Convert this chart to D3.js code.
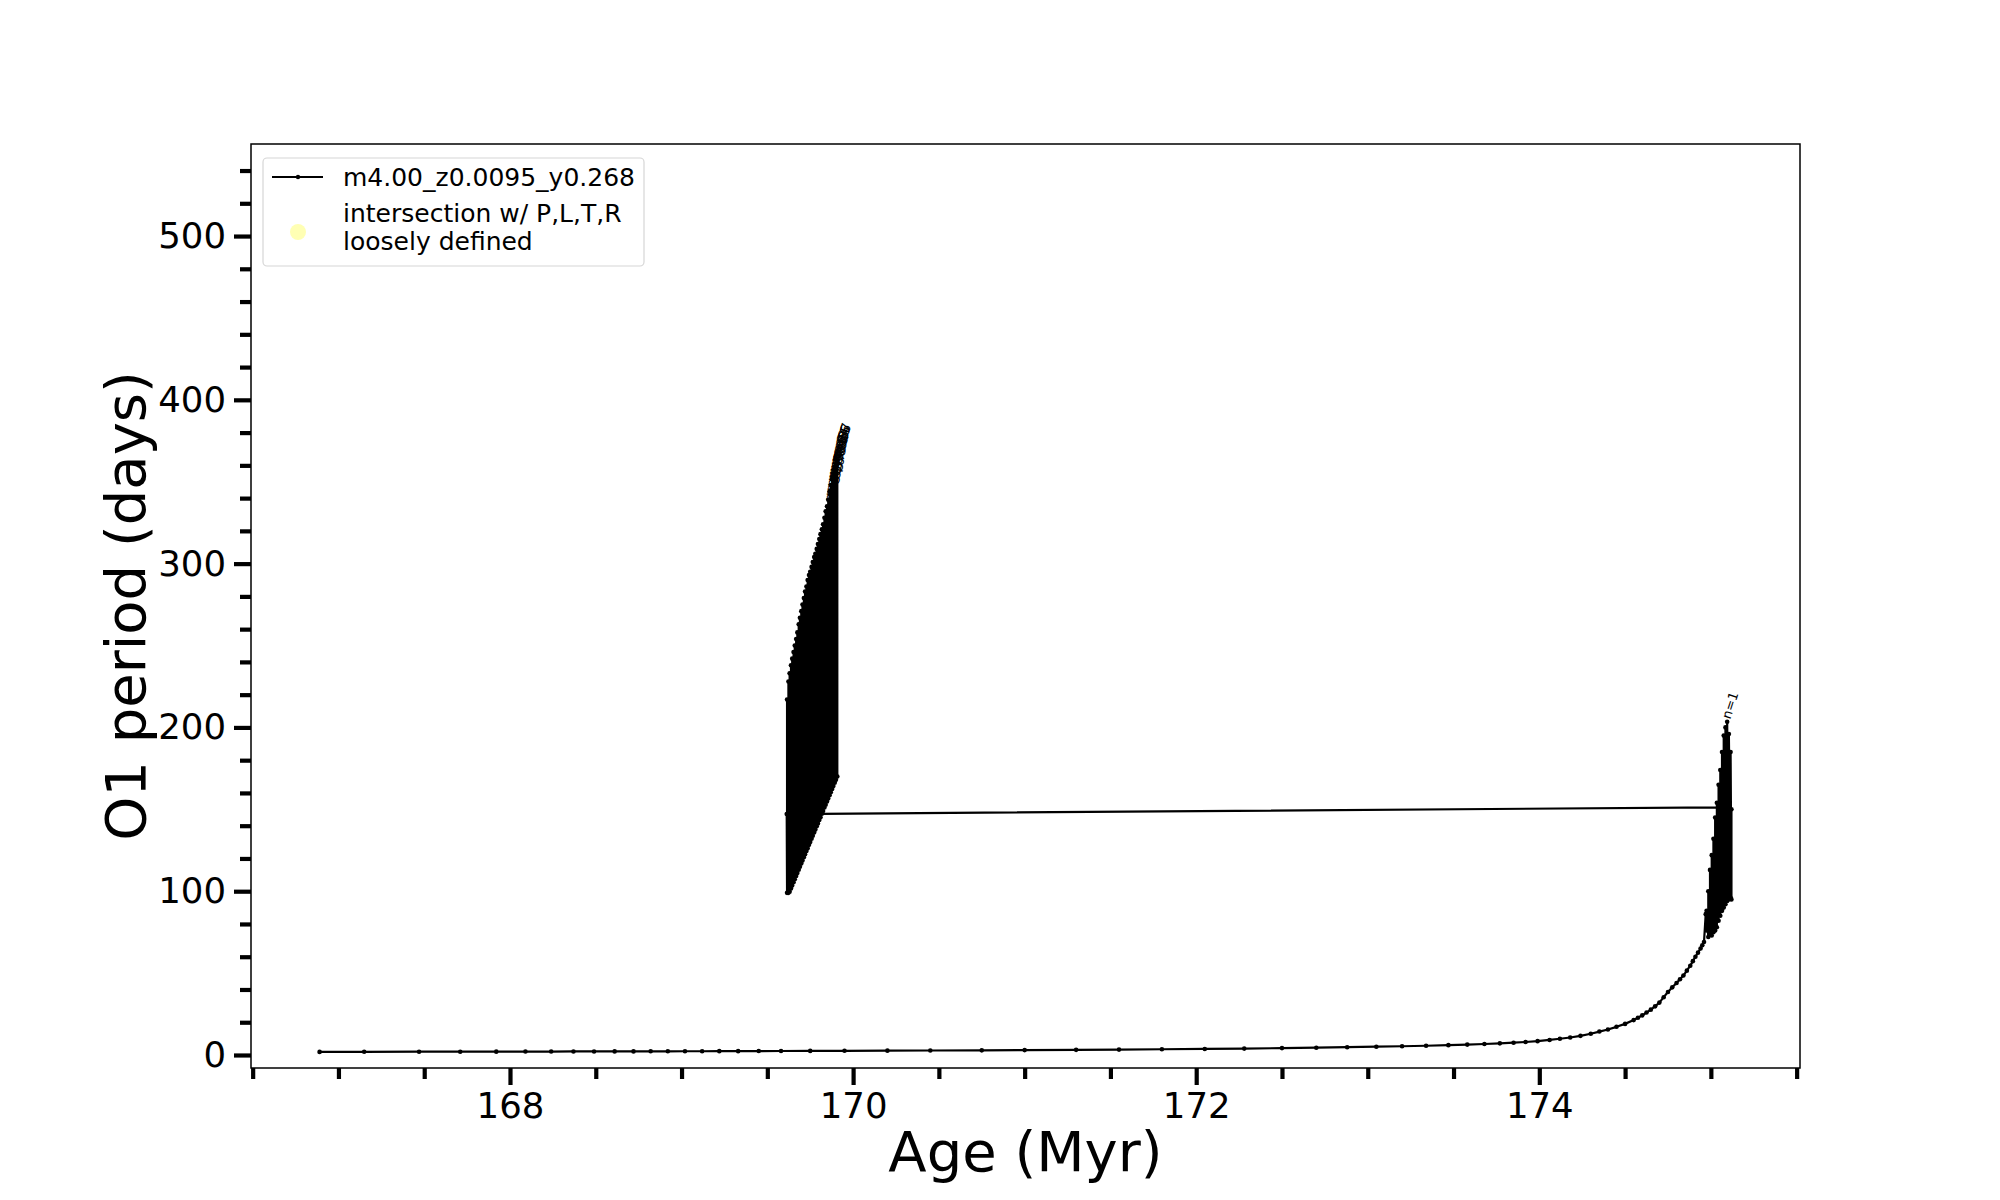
<!DOCTYPE html>
<html><head><meta charset="utf-8">
<script src="https://cdn.jsdelivr.net/npm/d3@7"></script>
<style>body{margin:0;background:#fff} text{font-family:"DejaVu Sans",sans-serif}</style>
</head><body><svg id="c" width="2000" height="1200"></svg>
<script>
// ---- data ----
const seriesName = "m4.00_z0.0095_y0.268";
const legendText2 = ["intersection w/ P,L,T,R", "loosely defined"];
const xLabel = "Age (Myr)";
const yLabel = "O1 period (days)";
const xTicks = [168, 170, 172, 174];
const xMinorTicks = [166.5,167,167.5,168.5,169,169.5,170.5,171,171.5,172.5,173,173.5,174.5,175,175.5];
const yTicks = [0, 100, 200, 300, 400, 500];
const yMinorTicks = [20,40,60,80,120,140,160,180,220,240,260,280,320,340,360,380,420,440,460,480,520,540];

const trackAge = [166.89,167.15,167.47,167.71,167.92,168.09,168.24,168.37,168.49,168.61,168.72,168.82,168.92,169.02,169.12,169.22,169.33,169.45,169.58,169.75,169.95,170.2,170.45,170.75,171.0,171.3,171.55,171.8,172.05,172.28,172.5,172.7,172.88,173.05,173.2,173.34,173.47,173.58,173.68,173.77,173.85,173.92,173.99,174.06,174.12,174.18,174.24,174.30,174.35,174.40,174.45,174.50,174.55,174.575,174.60,174.625,174.65,174.675,174.70,174.725,174.75,174.775,174.80,174.82,174.84,174.86,174.88,174.895,174.91,174.925,174.94,174.95,174.96,174.97];
const trackPeriod = [1.9,1.95,2.0,2.0,2.05,2.1,2.1,2.15,2.15,2.2,2.2,2.25,2.25,2.3,2.3,2.35,2.35,2.4,2.45,2.5,2.55,2.65,2.75,2.85,3.0,3.15,3.3,3.5,3.7,3.9,4.2,4.45,4.75,5.05,5.35,5.65,6.0,6.35,6.7,7.1,7.5,7.95,8.45,9.2,9.9,10.7,11.7,13.0,14.3,15.6,17.2,19.0,21.3,22.7,24.2,25.9,27.7,29.7,32.0,35.3,38.5,41.3,44.0,46.2,48.5,51.5,54.5,57.3,60.0,62.5,65.0,67.0,69.0,86.0];

const spikeAge  = [174.975,174.985,174.995,175.005,175.015,175.025,175.035,175.045,175.055,175.065,175.075,175.085,175.095,175.105,175.115,175.12];
const spikeLow  = [76,72,74,73,75,76,78,82,85,88,90,92,94,95,96,95];
const spikeHigh = [88,100,113,122,132,145,154,165,174,185,195,200,203.5,196,185,150];

const bridgeAge = [175.055, 169.613];
const bridgePeriod = [151.2, 147.1];

const blobAge  = [169.615,169.623,169.630,169.638,169.645,169.653,169.660,169.668,169.675,169.683,169.690,169.698,169.705,169.713,169.720,169.728,169.735,169.743,169.750,169.758,169.765,169.773,169.780,169.788,169.795,169.803,169.810,169.818,169.825,169.833,169.840,169.848,169.855,169.863,169.870,169.878,169.885,169.893,169.900,169.908];
const blobLow  = [99,99,99.7,101.7,103.5,105.5,107.3,109.3,111.1,113.1,114.9,116.9,118.7,120.7,122.5,124.5,126.3,128.3,130.1,132.1,133.9,135.9,137.6,139.7,141.4,143.5,145.2,147.3,149.0,151.1,152.8,154.8,156.6,158.6,160.4,162.4,164.2,166.2,168.0,170.0];
const blobHigh = [217,228,233,238,242,246,250,254,258,263,267,271,275,279,283,286,290,293,295,298,301,304,306,309,312,315,318,321,324,328,332,335,339,344,348,352,355,358,360,362];

const labelAge    = [175.095, 169.862,169.866,169.870,169.874,169.878,169.882,169.885,169.889,169.893,169.896,169.900,169.903,169.906,169.908];
const labelPeriod = [203.5, 336,339,342,345,348,350,352,354,356,358,360,361,362,363];
const labelText   = ["n=1", "n=54","n=55","n=56","n=57","n=58","n=59","n=60","n=61","n=62","n=63","n=64","n=65","n=66","n=67"];

// ---- layout ----
const svg = d3.select("#c");
const L = 251, R = 1800, T = 144, B = 1068;
const x = d3.scaleLinear().domain([166.4903, 175.5196]).range([L, R]);
const y = d3.scaleLinear().domain([-7.94, 556.2]).range([B, T]);

// build the ordered series
const pts = [];
trackAge.forEach((a, i) => pts.push([a, trackPeriod[i]]));
spikeAge.forEach((a, i) => { pts.push([a, spikeLow[i]]); pts.push([a, spikeHigh[i]]); });
bridgeAge.forEach((a, i) => pts.push([a, bridgePeriod[i]]));
blobAge.forEach((a, i) => { pts.push([a, blobLow[i]]); pts.push([a, blobHigh[i]]); });

const line = d3.line().x(d => x(d[0])).y(d => y(d[1]));
svg.append("path").datum(pts).attr("d", line)
  .attr("fill", "none").attr("stroke", "#000").attr("stroke-width", 2.2)
  .attr("stroke-linejoin", "round");
svg.append("g").selectAll("circle").data(pts).join("circle")
  .attr("cx", d => x(d[0])).attr("cy", d => y(d[1])).attr("r", 2.3).attr("fill", "#000");

// labels
svg.append("g").selectAll("text").data(labelAge).join("text")
  .attr("transform", (a, i) => `translate(${x(a) + 3},${y(labelPeriod[i]) - 2}) rotate(-72)`)
  .attr("font-size", 13).attr("fill", "#000")
  .text((a, i) => labelText[i]);

// axes
function styleAxis(g) {
  g.select(".domain").remove();
  g.selectAll(".tick line").attr("stroke", "#000").attr("stroke-width", 4.2);
  g.selectAll(".tick text").attr("font-size", 35.5).attr("fill", "#000")
    .attr("font-family", "DejaVu Sans");
}
svg.append("g").attr("transform", `translate(0,${B})`)
  .call(d3.axisBottom(x).tickValues(xTicks).tickFormat(d3.format("d")).tickSize(17).tickPadding(8))
  .call(styleAxis);
svg.append("g").attr("transform", `translate(0,${B})`)
  .call(d3.axisBottom(x).tickValues(xMinorTicks).tickFormat("").tickSize(11))
  .call(styleAxis);
svg.append("g").attr("transform", `translate(${L},0)`)
  .call(d3.axisLeft(y).tickValues(yTicks).tickFormat(d3.format("d")).tickSize(17).tickPadding(8))
  .call(styleAxis);
svg.append("g").attr("transform", `translate(${L},0)`)
  .call(d3.axisLeft(y).tickValues(yMinorTicks).tickFormat("").tickSize(11))
  .call(styleAxis);

// frame
svg.append("rect").attr("x", L).attr("y", T).attr("width", R - L).attr("height", B - T)
  .attr("fill", "none").attr("stroke", "#000").attr("stroke-width", 1.5);

// axis labels
svg.append("text").attr("x", (L + R) / 2).attr("y", 1171).attr("text-anchor", "middle")
  .attr("font-size", 56).text(xLabel);
svg.append("text").attr("transform", `translate(145,${(T + B) / 2}) rotate(-90)`)
  .attr("text-anchor", "middle").attr("font-size", 56).text(yLabel);

// legend
const lg = svg.append("g");
lg.append("rect").attr("x", 263).attr("y", 158).attr("width", 381).attr("height", 108)
  .attr("rx", 4).attr("fill", "#fff").attr("fill-opacity", 0.8)
  .attr("stroke", "#d6d6d6").attr("stroke-width", 1.2);
lg.append("line").attr("x1", 272).attr("x2", 323).attr("y1", 177).attr("y2", 177)
  .attr("stroke", "#000").attr("stroke-width", 2);
lg.append("circle").attr("cx", 298).attr("cy", 177).attr("r", 2.2).attr("fill", "#000");
lg.append("text").attr("x", 343).attr("y", 186).attr("font-size", 25).text(seriesName);
lg.append("circle").attr("cx", 298).attr("cy", 232).attr("r", 8).attr("fill", "#ffffb4");
legendText2.forEach((t, i) => {
  lg.append("text").attr("x", 343).attr("y", 222 + i * 27.5).attr("font-size", 25).text(t);
});
</script></body></html>
